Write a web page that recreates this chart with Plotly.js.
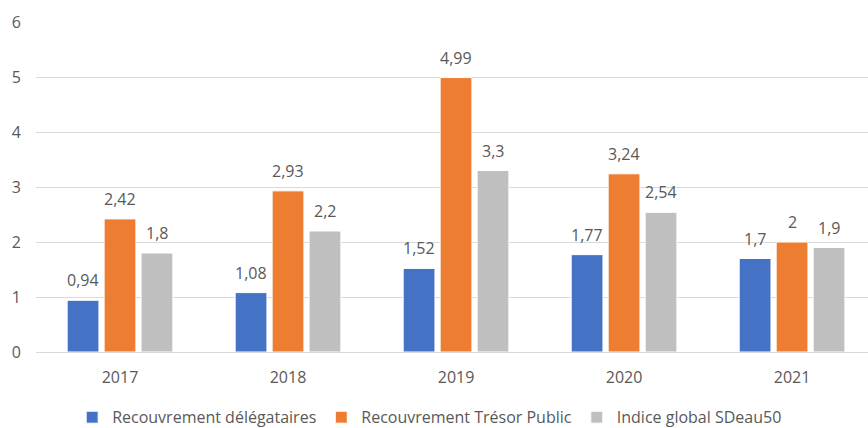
<!DOCTYPE html>
<html><head><meta charset="utf-8">
<script src="https://cdn.plot.ly/plotly-3.0.1.min.js"></script>
<style>html,body{margin:0;padding:0;background:#fff}#chart{width:868px;height:428px}</style>
</head><body><div id="chart"></div>
<script>
const years = ['2017','2018','2019','2020','2021'];
const delegataires = [0.94, 1.08, 1.52, 1.77, 1.7];
const tresorPublic = [2.42, 2.93, 4.99, 3.24, 2];
const indiceGlobal = [1.8, 2.2, 3.3, 2.54, 1.9];
const seriesNames = ['Recouvrement délégataires', 'Recouvrement Trésor Public', 'Indice global SDeau50'];
const colors = ['#4472C4', '#ED7D31', '#BFBFBF'];
const yTicks = [0,1,2,3,4,5,6];

const fmt = v => String(v).replace('.', ',');
const font = 'Open Sans, Noto Sans, sans-serif';
const W = 868, ML = 36, MR = 0;
const xRange = [-0.5, 4.452];
const bargap = 0.34, bargroupgap = 0.14;
const series = [delegataires, tresorPublic, indiceGlobal];

const data = series.map((vals, i) => ({
  type: 'bar', x: years, y: vals, name: seriesNames[i],
  marker: {color: colors[i], line: {color: '#ffffff', width: 1}},
  hoverinfo: 'none'
}));

// data labels above each bar (category axis: annotation x is the category index)
const pxPerCat = (W - ML - MR) / (xRange[1] - xRange[0]);
const slotPx = pxPerCat * (1 - bargap) / series.length;
const annotations = [];
series.forEach((vals, i) => {
  vals.forEach((v, j) => {
    annotations.push({
      x: j, y: v, xref: 'x', yref: 'y', text: fmt(v), showarrow: false,
      xanchor: 'center', yanchor: 'bottom', xshift: (i - (series.length - 1) / 2) * slotPx, yshift: 7,
      font: {family: font, size: 16, color: '#595959'}
    });
  });
});

const layout = {
  width: W, height: 428,
  margin: {l: ML, r: MR, t: 22, b: 76, autoexpand: false},
  barmode: 'group', bargap: bargap, bargroupgap: bargroupgap,
  paper_bgcolor: '#fff', plot_bgcolor: '#fff',
  font: {family: font, size: 15, color: '#595959'},
  xaxis: {type: 'category', range: xRange, showgrid: false, showline: false,
    ticks: '', tickfont: {size: 16, color: '#595959'}, ticklabelstandoff: 14, zeroline: false},
  yaxis: {range: [0, 6], tickvals: yTicks, showgrid: true, gridcolor: '#D9D9D9', gridwidth: 1,
    zeroline: true, zerolinecolor: '#D9D9D9', zerolinewidth: 1, showline: false, ticks: '',
    tickfont: {size: 16, color: '#595959'}, ticklabelstandoff: 14},
  legend: {orientation: 'h', x: 0.495, xanchor: 'center', xref: 'container', yref: 'container',
    y: 0.025, yanchor: 'middle',
    font: {size: 16, color: '#595959'}, itemwidth: 30, traceorder: 'normal'},
  annotations: annotations,
  showlegend: true
};
Plotly.newPlot('chart', data, layout, {staticPlot: true, displayModeBar: false});
</script></body></html>
